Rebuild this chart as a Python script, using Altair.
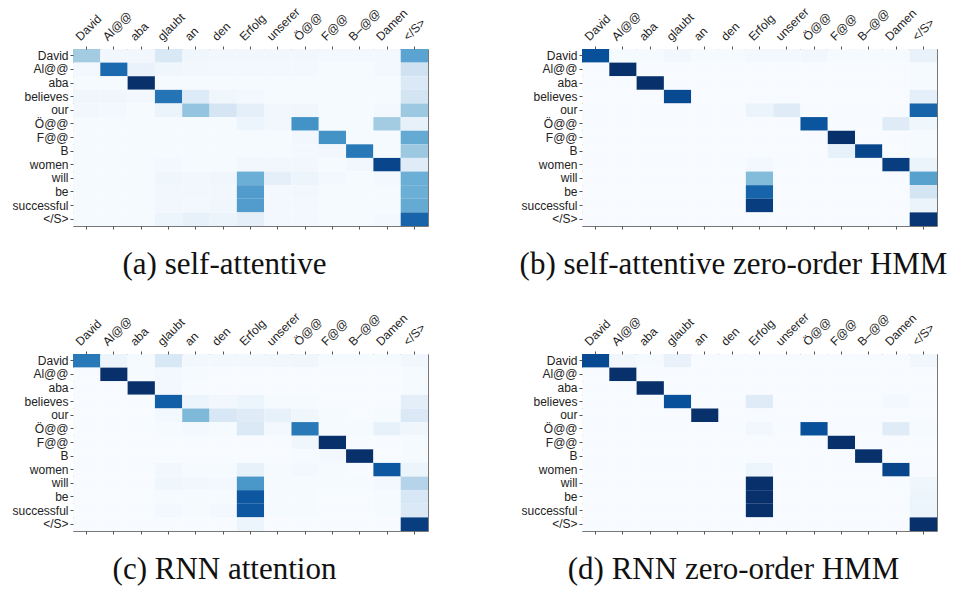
import altair as alt
import pandas as pd

# ---------------- data ----------------
src_words = ["David", "Al@@", "aba", "glaubt", "an", "den", "Erfolg",
             "unserer", "Ö@@", "F@@", "B–@@", "Damen", "</S>"]
tgt_words = ["David", "Al@@", "aba", "believes", "our", "Ö@@", "F@@",
             "B", "women", "will", "be", "successful", "</S>"]

captions = ["(a) self-attentive", "(b) self-attentive zero-order HMM",
            "(c) RNN attention", "(d) RNN zero-order HMM"]

# rows = target words, columns = source words (attention weights, 0..1)
attn_self = [
    [0.36, 0.03, 0.03, 0.15, 0.04, 0.03, 0.03, 0.03, 0.03, 0.02, 0.02, 0.02, 0.55],
    [0.02, 0.78, 0.07, 0.04, 0.03, 0.02, 0.02, 0.02, 0.02, 0.01, 0.01, 0.02, 0.20],
    [0.01, 0.01, 1.00, 0.01, 0.01, 0.01, 0.01, 0.01, 0.01, 0.01, 0.01, 0.01, 0.14],
    [0.04, 0.04, 0.02, 0.74, 0.13, 0.04, 0.02, 0.01, 0.01, 0.01, 0.01, 0.01, 0.18],
    [0.03, 0.02, 0.01, 0.06, 0.40, 0.17, 0.09, 0.03, 0.04, 0.01, 0.01, 0.02, 0.38],
    [0.01, 0.01, 0.01, 0.01, 0.01, 0.01, 0.05, 0.03, 0.62, 0.01, 0.01, 0.36, 0.08],
    [0.01, 0.01, 0.01, 0.01, 0.01, 0.01, 0.01, 0.01, 0.03, 0.62, 0.01, 0.01, 0.52],
    [0.01, 0.01, 0.01, 0.01, 0.01, 0.01, 0.01, 0.01, 0.02, 0.03, 0.72, 0.01, 0.38],
    [0.01, 0.01, 0.01, 0.02, 0.01, 0.01, 0.03, 0.03, 0.03, 0.01, 0.03, 0.92, 0.12],
    [0.01, 0.01, 0.01, 0.04, 0.03, 0.04, 0.50, 0.09, 0.05, 0.02, 0.01, 0.02, 0.50],
    [0.01, 0.01, 0.01, 0.03, 0.03, 0.03, 0.58, 0.02, 0.03, 0.01, 0.01, 0.01, 0.50],
    [0.01, 0.01, 0.01, 0.03, 0.02, 0.04, 0.58, 0.02, 0.02, 0.01, 0.01, 0.01, 0.52],
    [0.01, 0.01, 0.01, 0.05, 0.08, 0.06, 0.09, 0.02, 0.02, 0.01, 0.01, 0.02, 0.80],
]

attn_self_hmm = [
    [0.88, 0.01, 0.01, 0.03, 0.01, 0.01, 0.02, 0.02, 0.03, 0.01, 0.01, 0.01, 0.07],
    [0.00, 1.00, 0.00, 0.00, 0.00, 0.00, 0.00, 0.00, 0.00, 0.00, 0.00, 0.00, 0.01],
    [0.00, 0.00, 1.00, 0.00, 0.00, 0.00, 0.00, 0.00, 0.00, 0.00, 0.00, 0.00, 0.01],
    [0.00, 0.00, 0.00, 0.90, 0.00, 0.00, 0.00, 0.00, 0.00, 0.00, 0.00, 0.00, 0.09],
    [0.00, 0.00, 0.00, 0.00, 0.00, 0.00, 0.06, 0.12, 0.00, 0.00, 0.00, 0.00, 0.80],
    [0.00, 0.00, 0.00, 0.00, 0.00, 0.00, 0.00, 0.00, 0.86, 0.00, 0.00, 0.12, 0.04],
    [0.00, 0.00, 0.00, 0.00, 0.00, 0.00, 0.00, 0.00, 0.00, 1.00, 0.00, 0.00, 0.01],
    [0.00, 0.00, 0.00, 0.00, 0.00, 0.00, 0.00, 0.00, 0.00, 0.08, 0.92, 0.00, 0.01],
    [0.00, 0.00, 0.00, 0.00, 0.00, 0.00, 0.02, 0.00, 0.00, 0.00, 0.00, 0.95, 0.06],
    [0.00, 0.00, 0.00, 0.00, 0.00, 0.00, 0.44, 0.00, 0.00, 0.00, 0.00, 0.00, 0.56],
    [0.00, 0.00, 0.00, 0.00, 0.00, 0.00, 0.80, 0.00, 0.00, 0.00, 0.00, 0.00, 0.18],
    [0.00, 0.00, 0.00, 0.00, 0.00, 0.00, 0.95, 0.00, 0.00, 0.00, 0.00, 0.00, 0.06],
    [0.00, 0.00, 0.00, 0.00, 0.00, 0.00, 0.00, 0.00, 0.00, 0.00, 0.00, 0.00, 0.98],
]

attn_rnn = [
    [0.72, 0.05, 0.01, 0.15, 0.02, 0.02, 0.02, 0.03, 0.04, 0.01, 0.01, 0.01, 0.03],
    [0.00, 1.00, 0.01, 0.02, 0.01, 0.00, 0.00, 0.00, 0.00, 0.00, 0.00, 0.00, 0.01],
    [0.00, 0.00, 1.00, 0.02, 0.00, 0.00, 0.00, 0.00, 0.00, 0.00, 0.00, 0.00, 0.01],
    [0.00, 0.00, 0.00, 0.82, 0.05, 0.03, 0.05, 0.01, 0.01, 0.00, 0.00, 0.00, 0.10],
    [0.00, 0.00, 0.00, 0.02, 0.45, 0.16, 0.12, 0.08, 0.04, 0.01, 0.00, 0.01, 0.14],
    [0.00, 0.00, 0.00, 0.01, 0.02, 0.01, 0.14, 0.02, 0.72, 0.01, 0.01, 0.08, 0.04],
    [0.00, 0.00, 0.00, 0.00, 0.00, 0.00, 0.00, 0.00, 0.04, 1.00, 0.00, 0.00, 0.01],
    [0.00, 0.00, 0.00, 0.00, 0.00, 0.00, 0.00, 0.00, 0.01, 0.02, 1.00, 0.00, 0.01],
    [0.00, 0.00, 0.00, 0.03, 0.01, 0.01, 0.08, 0.01, 0.02, 0.01, 0.00, 0.85, 0.05],
    [0.00, 0.00, 0.00, 0.04, 0.03, 0.02, 0.60, 0.01, 0.01, 0.01, 0.01, 0.02, 0.30],
    [0.00, 0.00, 0.00, 0.01, 0.01, 0.01, 0.85, 0.01, 0.01, 0.00, 0.00, 0.01, 0.16],
    [0.00, 0.00, 0.00, 0.02, 0.01, 0.02, 0.85, 0.01, 0.01, 0.00, 0.00, 0.01, 0.14],
    [0.00, 0.00, 0.00, 0.00, 0.00, 0.00, 0.05, 0.00, 0.00, 0.00, 0.00, 0.00, 0.95],
]

attn_rnn_hmm = [
    [0.90, 0.03, 0.01, 0.07, 0.00, 0.00, 0.00, 0.00, 0.00, 0.00, 0.00, 0.00, 0.03],
    [0.00, 1.00, 0.00, 0.00, 0.00, 0.00, 0.00, 0.00, 0.00, 0.00, 0.00, 0.00, 0.00],
    [0.00, 0.00, 1.00, 0.00, 0.00, 0.00, 0.00, 0.00, 0.00, 0.00, 0.00, 0.00, 0.00],
    [0.00, 0.00, 0.00, 0.88, 0.00, 0.00, 0.12, 0.00, 0.00, 0.00, 0.00, 0.02, 0.00],
    [0.00, 0.00, 0.00, 0.00, 1.00, 0.00, 0.00, 0.00, 0.00, 0.00, 0.00, 0.00, 0.00],
    [0.00, 0.00, 0.00, 0.00, 0.00, 0.00, 0.03, 0.00, 0.88, 0.00, 0.00, 0.12, 0.01],
    [0.00, 0.00, 0.00, 0.00, 0.00, 0.00, 0.00, 0.00, 0.00, 1.00, 0.00, 0.00, 0.00],
    [0.00, 0.00, 0.00, 0.00, 0.00, 0.00, 0.00, 0.00, 0.00, 0.00, 1.00, 0.00, 0.00],
    [0.00, 0.00, 0.00, 0.00, 0.00, 0.00, 0.05, 0.00, 0.00, 0.00, 0.00, 0.92, 0.00],
    [0.00, 0.00, 0.00, 0.00, 0.00, 0.00, 1.00, 0.00, 0.00, 0.00, 0.00, 0.00, 0.04],
    [0.00, 0.00, 0.00, 0.00, 0.00, 0.00, 1.00, 0.00, 0.00, 0.00, 0.00, 0.00, 0.05],
    [0.00, 0.00, 0.00, 0.00, 0.00, 0.00, 1.00, 0.00, 0.00, 0.00, 0.00, 0.00, 0.05],
    [0.00, 0.00, 0.00, 0.00, 0.00, 0.00, 0.00, 0.00, 0.00, 0.00, 0.00, 0.00, 1.00],
]

# matplotlib "Blues" colormap stops
blues = ["#f7fbff", "#deebf7", "#c6dbef", "#9ecae1", "#6baed6",
         "#4292c6", "#2171b5", "#08519c", "#08306b"]
stops = [i / 8 for i in range(9)]

W, H = 355, 177


def panel(mat, caption):
    records = []
    for i, t in enumerate(tgt_words):
        for j, s in enumerate(src_words):
            records.append({"tgt": t, "src": s, "w": mat[i][j]})
    df = pd.DataFrame(records)

    xscale = alt.Scale(domain=src_words, paddingInner=0, paddingOuter=0)
    yscale = alt.Scale(domain=tgt_words, paddingInner=0, paddingOuter=0)
    yaxis = alt.Axis(orient="left", labelPadding=2)

    heat = alt.Chart(df).mark_rect().encode(
        x=alt.X("src:N", scale=xscale, title=None,
                axis=alt.Axis(orient="top", labelAngle=-45, labelAlign="left",
                              labelBaseline="bottom", labelOffset=-4,
                              labelPadding=3, ticks=True)),
        y=alt.Y("tgt:N", scale=yscale, title=None, axis=yaxis),
        color=alt.Color("w:Q", legend=None,
                        scale=alt.Scale(domain=stops, range=blues,
                                        interpolate="rgb")),
    )
    bottom = alt.Chart(df).mark_rect(opacity=0).encode(
        x=alt.X("src:N", scale=xscale, title=None,
                axis=alt.Axis(orient="bottom", labels=False, ticks=True)),
        y=alt.Y("tgt:N", scale=yscale, title=None, axis=yaxis),
    )
    return alt.layer(heat, bottom).resolve_axis(x="independent").properties(
        width=W, height=H,
        title=alt.TitleParams(caption, orient="bottom", anchor="middle",
                              frame="group", font="Liberation Serif",
                              fontSize=31, fontWeight="normal",
                              color="#111", dx=-26, offset=20),
    )


chart = alt.concat(
    panel(attn_self, captions[0]),
    panel(attn_self_hmm, captions[1]),
    panel(attn_rnn, captions[2]),
    panel(attn_rnn_hmm, captions[3]),
    columns=2,
    spacing={"row": 128, "column": 154},
    bounds="flush",
).properties(
    padding={"left": 11, "top": 4, "right": 2, "bottom": 2},
    background="white",
).configure_axis(
    labelFont="Liberation Sans", labelFontSize=12, labelColor="#222",
    tickColor="#555", tickSize=3, tickWidth=1, domain=False, grid=False,
).configure_view(
    stroke="#777", strokeWidth=1,
)

chart.save("out.html", embed_options={"renderer": "svg", "actions": False})
